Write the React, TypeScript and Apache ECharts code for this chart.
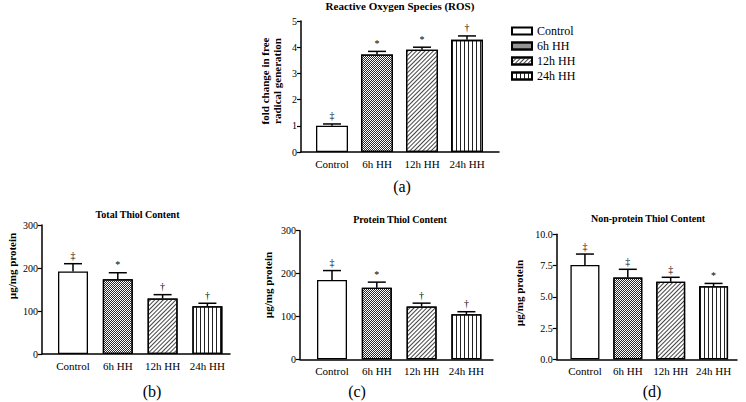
import React, { useEffect, useRef } from "react";
import * as echarts from "echarts";

const categories = ["Control", "6h HH", "12h HH", "24h HH"];

const rosMean = [1.0, 3.72, 3.9, 4.28];
const rosErr = [0.07, 0.12, 0.1, 0.15];
const rosSig = ["‡", "*", "*", "†"];

const totalMean = [192, 174, 129, 111];
const totalErr = [18, 15, 9, 7];
const totalSig = ["‡", "*", "†", "†"];

const proteinMean = [185, 167, 123, 105];
const proteinErr = [22, 13, 8, 6];
const proteinSig = ["‡", "*", "†", "†"];

const nonProteinMean = [7.55, 6.55, 6.2, 5.85];
const nonProteinErr = [0.87, 0.65, 0.36, 0.22];
const nonProteinSig = ["‡", "‡", "‡", "*"];

const SERIF = "'Liberation Serif', 'Times New Roman', serif";

const decals: any[] = [
  null,
  {
    symbol: "rect",
    symbolSize: 1,
    dashArrayX: [[1, 1], [0, 1, 1, 0]],
    dashArrayY: [1, 0],
    color: "#2a2a2a",
    backgroundColor: "#c4c4c4",
  },
  {
    symbol: "rect",
    symbolSize: 1,
    dashArrayX: [1, 0],
    dashArrayY: [1, 2],
    rotation: -Math.PI / 4,
    color: "#444",
    backgroundColor: "#fff",
  },
  {
    symbol: "rect",
    symbolSize: 1,
    dashArrayX: [1, 2.5],
    dashArrayY: [1, 0],
    color: "#222",
    backgroundColor: "#fff",
  },
];

type Panel = {
  title: string;
  titleX: number;
  titleY: number;
  yLabel: string;
  yLabelX: number;
  yLabelY: number;
  letter: string;
  letterX: number;
  letterY: number;
  axisLeft: number;
  axisRight: number;
  barLeft: number;
  barRight: number;
  top: number;
  bottom: number;
  max: number;
  interval: number;
  decimals: number;
  barWidth: number;
  cap: number;
  mean: number[];
  err: number[];
  sig: string[];
};

const panels: Panel[] = [
  {
    title: "Reactive Oxygen Species (ROS)", titleX: 400, titleY: 6,
    yLabel: "fold change in free\nradical generation", yLabelX: 271, yLabelY: 81,
    letter: "(a)", letterX: 402, letterY: 186,
    axisLeft: 301, axisRight: 499, barLeft: 309.5, barRight: 489.5,
    top: 21, bottom: 152, max: 5, interval: 1, decimals: 0,
    barWidth: 32, cap: 9, mean: rosMean, err: rosErr, sig: rosSig,
  },
  {
    title: "Total Thiol Content", titleX: 137.5, titleY: 215,
    yLabel: "µg/mg protein", yLabelX: 12, yLabelY: 266,
    letter: "(b)", letterX: 152, letterY: 391,
    axisLeft: 42, axisRight: 230, barLeft: 50.6, barRight: 229.8,
    top: 225, bottom: 354, max: 300, interval: 100, decimals: 0,
    barWidth: 30, cap: 9, mean: totalMean, err: totalErr, sig: totalSig,
  },
  {
    title: "Protein Thiol Content", titleX: 400, titleY: 220,
    yLabel: "µg/mg protein", yLabelX: 268, yLabelY: 285,
    letter: "(c)", letterX: 357, letterY: 391,
    axisLeft: 300, axisRight: 493, barLeft: 309.6, barRight: 488.8,
    top: 230.7, bottom: 359.3, max: 300, interval: 100, decimals: 0,
    barWidth: 30, cap: 9, mean: proteinMean, err: proteinErr, sig: proteinSig,
  },
  {
    title: "Non-protein Thiol Content", titleX: 648, titleY: 219,
    yLabel: "µg/mg protein", yLabelX: 519, yLabelY: 293,
    letter: "(d)", letterX: 652, letterY: 391,
    axisLeft: 556.7, axisRight: 737, barLeft: 563.5, barRight: 735,
    top: 234.3, bottom: 359.3, max: 10, interval: 2.5, decimals: 1,
    barWidth: 29, cap: 9, mean: nonProteinMean, err: nonProteinErr, sig: nonProteinSig,
  },
];

const W = 746;
const H = 402;

function buildOption() {
  const grid: any[] = [];
  const xAxis: any[] = [];
  const yAxis: any[] = [];
  const series: any[] = [];
  const graphic: any[] = [];
  const title: any[] = [];

  panels.forEach((p, pi) => {
    const gAxis = grid.length;
    grid.push({
      left: p.axisLeft,
      top: p.top,
      width: p.axisRight - p.axisLeft,
      height: p.bottom - p.top,
    });
    const gBar = grid.length;
    grid.push({
      left: p.barLeft,
      top: p.top,
      width: p.barRight - p.barLeft,
      height: p.bottom - p.top,
    });

    xAxis.push({
      gridIndex: gAxis,
      type: "value",
      min: 0,
      max: 1,
      axisLine: { show: true, onZero: false, lineStyle: { color: "#000", width: 1.5 } },
      axisTick: { show: false },
      axisLabel: { show: false },
      splitLine: { show: false },
    });
    yAxis.push({
      gridIndex: gAxis,
      type: "value",
      min: 0,
      max: p.max,
      interval: p.interval,
      axisLine: { show: true, onZero: false, lineStyle: { color: "#000", width: 1.5 } },
      axisTick: { show: true, length: 4, lineStyle: { color: "#000", width: 1.2 } },
      axisLabel: {
        color: "#000",
        fontFamily: SERIF,
        fontSize: 10,
        margin: 4,
        formatter: (v: number) => v.toFixed(p.decimals),
      },
      splitLine: { show: false },
    });
    const xb = xAxis.length;
    xAxis.push({
      gridIndex: gBar,
      type: "category",
      data: categories,
      axisLine: { show: false },
      axisTick: { show: false },
      axisLabel: { interval: 0, color: "#000", fontFamily: SERIF, fontSize: 11, margin: 6 },
      splitLine: { show: false },
    });
    const yb = yAxis.length;
    yAxis.push({
      gridIndex: gBar,
      type: "value",
      min: 0,
      max: p.max,
      show: false,
      splitLine: { show: false },
    });

    categories.forEach((c, ci) => {
      const data = categories.map((_, k) => (k === ci ? p.mean[k] : "-"));
      const itemStyle: any = {
        color: "#fff",
        borderColor: "#000",
        borderWidth: 1.3,
      };
      if (decals[ci]) itemStyle.decal = decals[ci];
      series.push({
        type: "bar",
        name: c,
        xAxisIndex: xb,
        yAxisIndex: yb,
        stack: "p" + pi,
        barWidth: p.barWidth,
        data,
        itemStyle,
        emphasis: { disabled: true },
      });
    });

    const sigs = p.sig;
    const cap = p.cap;
    series.push({
      type: "custom",
      name: "err" + pi,
      xAxisIndex: xb,
      yAxisIndex: yb,
      z: 5,
      itemStyle: { color: "#000" },
      encode: { x: 0, y: 1 },
      data: p.mean.map((m, k) => [k, m, p.err[k]]),
      renderItem: (params: any, api: any) => {
        const i = api.value(0);
        const v = api.value(1);
        const e = api.value(2);
        const a = api.coord([i, v]);
        const b = api.coord([i, v + e]);
        return {
          type: "group",
          children: [
            {
              type: "line",
              shape: { x1: a[0], y1: a[1], x2: b[0], y2: b[1] },
              style: { stroke: "#000", lineWidth: 1.5 },
            },
            {
              type: "line",
              shape: { x1: b[0] - cap, y1: b[1], x2: b[0] + cap, y2: b[1] },
              style: { stroke: "#000", lineWidth: 1.5 },
            },
            {
              type: "text",
              style: {
                text: sigs[params.dataIndex],
                x: b[0],
                y: b[1] - 3,
                align: "center",
                verticalAlign: "bottom",
                font: "10px " + SERIF,
                fill: "#000",
              },
            },
          ],
        };
      },
    });

    title.push({
      text: p.title,
      left: p.titleX,
      top: p.titleY - 6,
      textAlign: "center",
      padding: 0,
      textStyle: {
        fontFamily: SERIF,
        fontWeight: "bold",
        fontSize: pi === 0 ? 11 : 10,
        color: "#000",
      },
    });

    graphic.push({
      type: "text",
      x: p.yLabelX,
      y: p.yLabelY,
      rotation: Math.PI / 2,
      style: {
        text: p.yLabel,
        align: "center",
        verticalAlign: "middle",
        font: "bold 11px " + SERIF,
        lineHeight: 12,
        fill: "#000",
      },
    });
    graphic.push({
      type: "text",
      x: p.letterX,
      y: p.letterY,
      style: {
        text: p.letter,
        align: "center",
        verticalAlign: "middle",
        font: "16px " + SERIF,
        fill: "#000",
      },
    });
  });

  return {
    animation: false,
    backgroundColor: "#fff",
    title,
    legend: {
      data: categories,
      orient: "vertical",
      left: 511,
      top: 25,
      itemWidth: 20,
      itemHeight: 7,
      itemGap: 3,
      icon: "rect",
      padding: 0,
      selectedMode: false,
      textStyle: { fontFamily: SERIF, fontSize: 12, color: "#000" },
    },
    grid,
    xAxis,
    yAxis,
    series,
    graphic,
  };
}

export default function App() {
  const ref = useRef<HTMLDivElement>(null);
  useEffect(() => {
    if (!ref.current) return;
    const chart = echarts.init(ref.current, undefined, { renderer: "svg" });
    chart.setOption(buildOption() as any);
    return () => chart.dispose();
  }, []);
  return (
    <div
      ref={ref}
      style={{ position: "absolute", left: 0, top: 0, width: W, height: H, background: "#fff" }}
    />
  );
}
